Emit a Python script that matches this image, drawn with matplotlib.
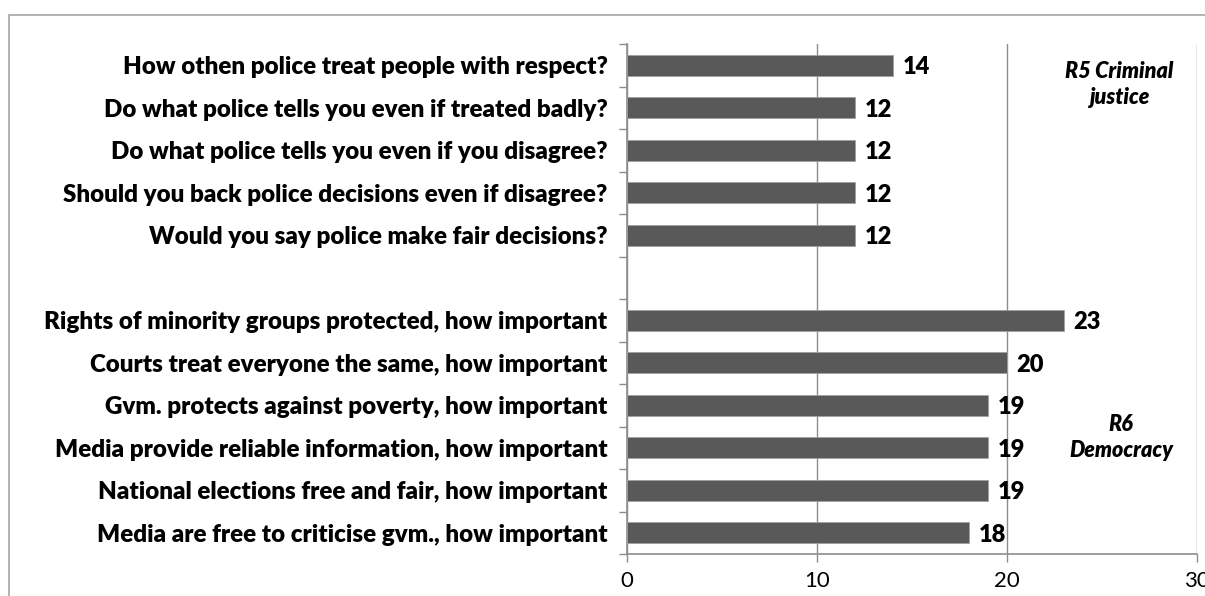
import numpy as np
import matplotlib
matplotlib.use("Agg")
import matplotlib.pyplot as plt
from matplotlib.patches import Rectangle
from matplotlib.ticker import FixedLocator

plt.rcParams["font.family"] = ["Lato", "DejaVu Sans"]

# ==============================
# Data
# ==============================

labels = [
    "How othen police treat people with respect?",
    "Do what police tells you even if treated badly?",
    "Do what police tells you even if you disagree?",
    "Should you back police decisions even if disagree?",
    "Would you say police make fair decisions?",
    "",
    "Rights of minority groups protected, how important",
    "Courts treat everyone the same, how important",
    "Gvm. protects against poverty, how important",
    "Media provide reliable information, how important",
    "National elections free and fair, how important",
    "Media are free to criticise gvm., how important",
]
values = [14, 12, 12, 12, 12, np.nan, 23, 20, 19, 19, 19, 18]
x_ticks = [0, 10, 20, 30]

GRID = "#8c8c8c"
BAR = "#595959"

# ==============================
# Plotting
# ==============================

fig = plt.figure(figsize=(12.05, 5.96), dpi=100)
ax = fig.add_axes([627 / 1205, 1 - 554 / 596, 570 / 1205, 510 / 596])

# outer chart border
fig.patches.append(Rectangle((9 / 1205, -0.1), 1.2, 1 - 15 / 596 + 0.1,
                             transform=fig.transFigure, fill=False,
                             edgecolor="#a6a6a6", linewidth=1.2))

pos = np.arange(len(labels))
ax.barh(pos, values, height=0.5, color=BAR, edgecolor="#a0a0a0",
        linewidth=0.6, zorder=3)

for p, v in zip(pos, values):
    if np.isnan(v):
        continue
    ax.text(v + 0.5, p + 0.05, f"{v:.0f}", va="center", ha="left",
            fontsize=17, fontweight="heavy", color="black")

ax.set_xlim(0, 30)
ax.set_ylim(len(labels) - 0.5, -0.5)

ax.set_yticks(pos)
ax.set_yticklabels(labels, fontsize=17.4, fontweight="heavy")
ax.tick_params(axis="y", which="major", length=0, pad=14)
ax.yaxis.set_minor_locator(FixedLocator(np.arange(-0.5, len(labels), 1.0)))
ax.tick_params(axis="y", which="minor", length=6, color=GRID, width=1)

ax.set_xticks(x_ticks)
ax.tick_params(axis="x", length=6, color=GRID, width=1, labelsize=16, pad=6)

ax.grid(axis="x", color=GRID, linewidth=1, zorder=0)
ax.set_axisbelow(True)
for side in ["top", "right"]:
    ax.spines[side].set_visible(False)
for side in ["left", "bottom"]:
    ax.spines[side].set_color(GRID)
    ax.spines[side].set_linewidth(1.2)

ax.text(25.9, 0.45, "R5 Criminal\njustice", ha="center", va="center",
        fontsize=15.5, fontweight="heavy", fontstyle="italic", linespacing=1.3)
ax.text(26.0, 8.75, "R6\nDemocracy", ha="center", va="center",
        fontsize=15.5, fontweight="heavy", fontstyle="italic", linespacing=1.3)

fig.savefig("out.png", dpi=100)
